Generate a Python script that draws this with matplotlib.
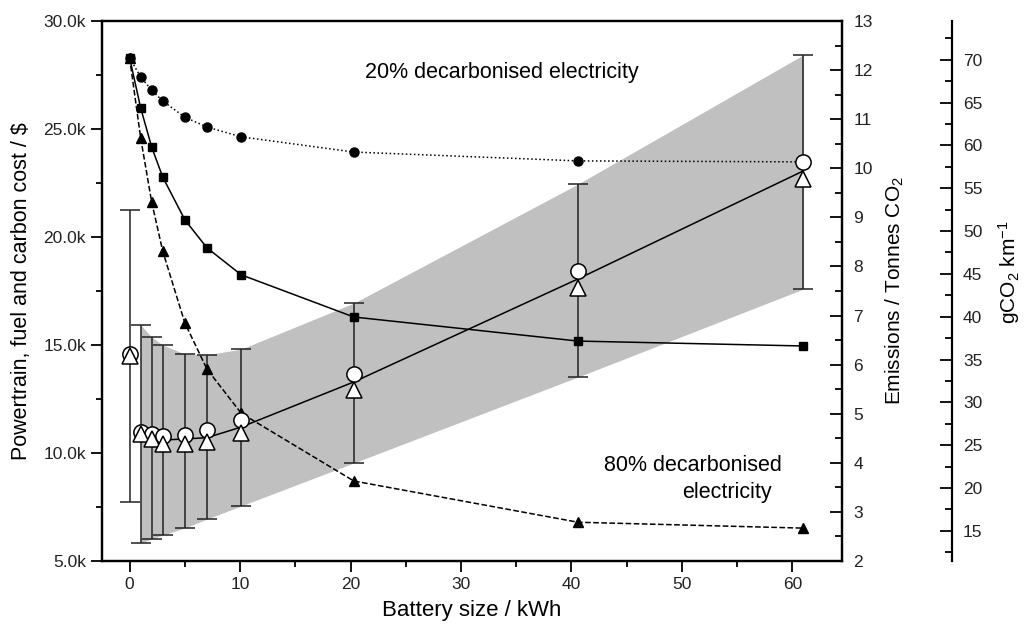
import matplotlib
matplotlib.use("Agg")
import matplotlib.pyplot as plt
from matplotlib.ticker import MultipleLocator, FuncFormatter

plt.rcParams['font.family'] = ['Liberation Sans', 'DejaVu Sans']
plt.rcParams['mathtext.default'] = 'regular'

battery_kwh = [0, 1, 2, 3, 5, 7, 10.1, 20.3, 40.6, 61.0]

# lifetime emissions, tonnes CO2
em_20pct = [12.25, 11.86, 11.59, 11.37, 11.04, 10.84, 10.64, 10.33, 10.15, 10.13]
em_mid = [12.25, 11.23, 10.43, 9.82, 8.95, 8.38, 7.83, 6.97, 6.48, 6.38]
em_80pct = [12.25, 10.62, 9.31, 8.31, 6.85, 5.91, 5.01, 3.63, 2.79, 2.67]

# powertrain + fuel + carbon cost, thousand $
cost_circle = [14.58, 10.97, 10.88, 10.79, 10.83, 11.06, 11.53, 13.66, 18.43, 23.47]
cost_triangle = [14.49, 10.88, 10.65, 10.42, 10.42, 10.51, 10.93, 12.92, 17.64, 22.69]
cost_high = [21.25, 15.93, 15.37, 15.00, 14.58, 14.54, 14.81, 16.94, 22.45, 28.43]
cost_low = [7.73, 5.83, 6.02, 6.20, 6.53, 6.94, 7.55, 9.54, 13.52, 17.59]
fit_kwh = [1, 2, 3, 5, 7, 10.1, 20.3, 40.6, 61.0]
cost_fit = [10.93, 10.79, 10.60, 10.65, 10.71, 11.20, 13.29, 18.06, 23.06]

fig = plt.figure(figsize=(10.24, 6.26), dpi=100)
ax = fig.add_axes([0.0996, 0.1038, 0.7227, 0.8627])
ax2 = ax.twinx()
ax3 = ax.twinx()

ax.set_xlim(-2.5, 64.5)
ax.set_ylim(5, 30)
ax2.set_ylim(2, 13)
ax3.set_ylim(11.48, 74.53)

# grey band between the error limits
ax.fill_between(battery_kwh[1:], cost_low[1:], cost_high[1:],
                color='#c0c0c0', lw=0, zorder=1)

yerr = [[c - l for c, l in zip(cost_circle, cost_low)],
        [h - c for c, h in zip(cost_circle, cost_high)]]
ax.errorbar(battery_kwh, cost_circle, yerr=yerr, fmt='none', ecolor='#222222',
            elinewidth=1.1, capsize=7, capthick=1.1, zorder=2)
ax.plot(fit_kwh, cost_fit, color='black', lw=1.1, zorder=2.5)

# emission series drawn on the tonnes scale
tr = ax2.transData
ax.plot(battery_kwh, em_20pct, ':', color='black', lw=1.1, marker='o', ms=6.5,
        transform=tr, zorder=3)
ax.plot(battery_kwh, em_mid, '-', color='black', lw=1.1, marker='s', ms=6,
        transform=tr, zorder=3)
ax.plot(battery_kwh, em_80pct, '--', color='black', lw=1.1, marker='^', ms=7.5,
        transform=tr, zorder=3)

ax.plot(battery_kwh, cost_circle, 'o', ms=11, mfc='white', mec='black', mew=1.1, zorder=4)
ax.plot(battery_kwh, cost_triangle, '^', ms=12, mfc='white', mec='black', mew=1.1, zorder=4)

ax.text(33.7, 27.6, '20% decarbonised electricity', ha='center', va='center', fontsize=15.5)
ax.text(51.0, 9.44, '80% decarbonised', ha='center', va='center', fontsize=15.5)
ax.text(54.1, 8.19, 'electricity', ha='center', va='center', fontsize=15.5)

# ticks
tick_col = '#222222'
ax.xaxis.set_major_locator(MultipleLocator(10))
ax.xaxis.set_minor_locator(MultipleLocator(5))
ax.yaxis.set_major_locator(MultipleLocator(5))
ax.yaxis.set_minor_locator(MultipleLocator(2.5))
ax.yaxis.set_major_formatter(FuncFormatter(lambda v, p: f'{v:.1f}k'))
ax.tick_params(which='major', direction='out', length=8, width=1.3,
               labelsize=12.5, labelcolor=tick_col, top=False)
ax.tick_params(which='minor', direction='out', length=4, width=1.3, top=False)

ax2.yaxis.set_major_locator(MultipleLocator(1))
ax2.yaxis.set_minor_locator(MultipleLocator(0.5))
ax2.tick_params(which='major', direction='in', length=9, width=1.3,
                labelsize=12.5, labelcolor=tick_col, pad=8)
ax2.tick_params(which='minor', direction='in', length=5, width=1.3)

ax3.spines['right'].set_position(('axes', 1.1486))
for s in ['top', 'bottom', 'left']:
    ax3.spines[s].set_visible(False)
ax3.yaxis.set_major_locator(MultipleLocator(5))
ax3.yaxis.set_minor_locator(MultipleLocator(2.5))
ax3.tick_params(which='major', direction='in', length=9, width=1.3,
                labelsize=12.5, labelcolor=tick_col, pad=8)
ax3.tick_params(which='minor', direction='in', length=5, width=1.3)

for a in (ax, ax2, ax3):
    for s in a.spines.values():
        s.set_linewidth(1.6)

ax.set_xlabel('Battery size / kWh', fontsize=16, labelpad=6)
ax.set_ylabel('Powertrain, fuel and carbon cost / $', fontsize=15.5, labelpad=8)
ax2.set_ylabel('Emissions / Tonnes CO$_2$', fontsize=15, labelpad=8)
ax3.set_ylabel('gCO$_2$ km$^{-1}$', fontsize=15, labelpad=10)
ax3.yaxis.label.set_y(0.535)

fig.savefig('out.png', dpi=100)
